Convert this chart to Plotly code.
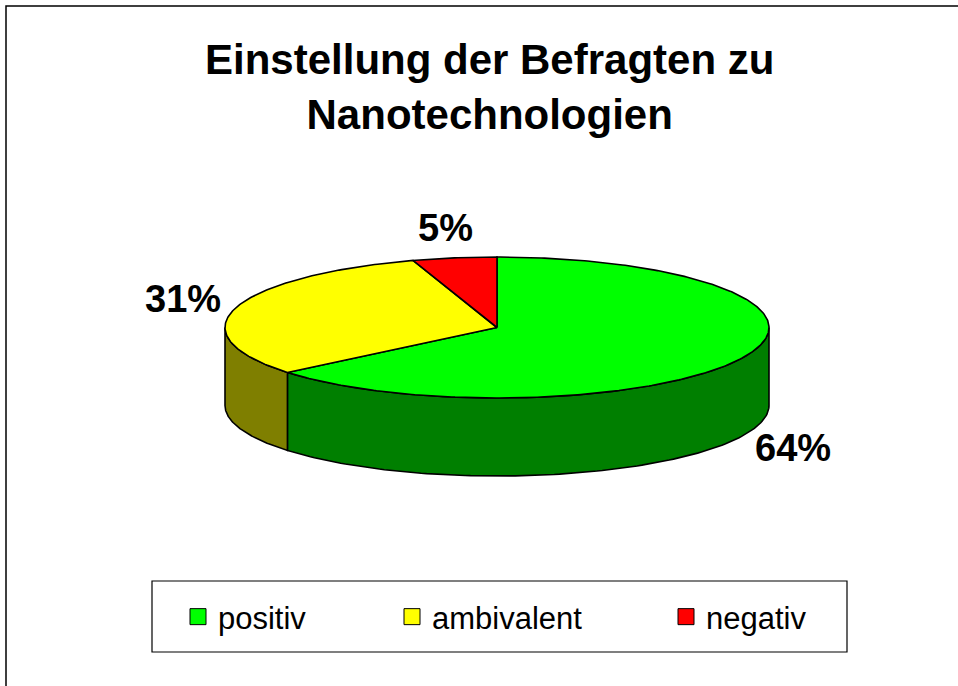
import numpy as np
import plotly.graph_objects as go

# ---------------- data ----------------
categories = ["positiv", "ambivalent", "negativ"]
shares = [64, 31, 5]
label_texts = ["64%", "31%", "5%"]
title_lines = ["Einstellung der Befragten zu", "Nanotechnologien"]

# ---------------- style / layout ----------------
top_colors = ["#00FF00", "#FFFF00", "#FF0000"]
side_colors = ["#007F00", "#7F7F00", "#7F0000"]
FONT = "Liberation Sans, Arial, sans-serif"

W, H = 958, 686
CX, CY = 497, 327.5        # centre of the pie's top ellipse (px)
RX, RY = 272, 70.5         # radii of the top ellipse (px)
DEPTH = 78                 # thickness of the pie (px)
GAP_X, GAP_Y = 55, 30      # label distance outside the ellipse
legend_sym_x = [198, 412, 686]
legend_y = 617


def ell(theta_deg, dy=0.0):
    t = np.radians(theta_deg)
    return CX + RX * np.sin(t), CY - RY * np.cos(t) + dy


fig = go.Figure()
total = float(sum(shares))
bounds = np.concatenate([[0.0], np.cumsum(shares) / total * 360.0])
outline = dict(color="black", width=1.6)

# front side walls (visible part: angles 90..270, measured clockwise from top)
for i in range(len(shares)):
    lo, hi = max(bounds[i], 90.0), min(bounds[i + 1], 270.0)
    if hi > lo:
        th = np.linspace(lo, hi, 120)
        xt, yt = ell(th)
        xb, yb = ell(th[::-1], DEPTH)
        xs = np.concatenate([xt, xb, xt[:1]])
        ys = np.concatenate([yt, yb, yt[:1]])
        fig.add_trace(go.Scatter(x=xs, y=ys, mode="lines", fill="toself",
                                 fillcolor=side_colors[i], line=outline,
                                 hoverinfo="skip", showlegend=False))

# top faces
for i in range(len(shares)):
    th = np.linspace(bounds[i], bounds[i + 1], max(int((bounds[i + 1] - bounds[i]) * 1.5), 8))
    xt, yt = ell(th)
    xs = np.concatenate([[CX], xt, [CX]])
    ys = np.concatenate([[CY], yt, [CY]])
    fig.add_trace(go.Scatter(x=xs, y=ys, mode="lines", fill="toself",
                             fillcolor=top_colors[i], line=outline,
                             hoverinfo="skip", showlegend=False))

# percentage labels
annotations = []
for i in range(len(shares)):
    mid = (bounds[i] + bounds[i + 1]) / 2.0
    t = np.radians(mid)
    lx = CX + (RX + GAP_X) * np.sin(t)
    ly = CY - (RY + GAP_Y) * np.cos(t) + (DEPTH if np.cos(t) < 0 else 0)
    annotations.append(dict(x=lx, y=ly, xref="x", yref="y", text=label_texts[i],
                            showarrow=False, xanchor="center", yanchor="middle",
                            font=dict(family=FONT, size=38, color="black", weight="bold")))

# title
annotations.append(dict(x=489, y=34, xref="x", yref="y", text="<br>".join(title_lines),
                        showarrow=False, xanchor="center", yanchor="top", align="center",
                        font=dict(family=FONT, size=42, color="black", weight="bold")))

# legend entries (one legend per entry so each can be positioned)
legend_names = ["legend", "legend2", "legend3"]
legend_layouts = {}
for i, cat in enumerate(categories):
    fig.add_trace(go.Scatter(x=[None], y=[None], mode="markers", name=cat,
                             marker=dict(symbol="square", size=16, color=top_colors[i],
                                         line=dict(color="black", width=1)),
                             legend=legend_names[i], hoverinfo="skip"))
    legend_layouts[legend_names[i]] = dict(
        x=(legend_sym_x[i] - 20) / W, y=1 - legend_y / H, xanchor="left", yanchor="middle",
        orientation="h", bgcolor="rgba(0,0,0,0)", borderwidth=0,
        font=dict(family=FONT, size=31, color="black"))

shapes = [
    # outer chart frame (top and left edges visible)
    dict(type="rect", xref="x", yref="y", x0=6, y0=6, x1=W + 20, y1=H + 20,
         line=dict(color="black", width=1.5), fillcolor="rgba(0,0,0,0)", layer="below"),
    # legend frame
    dict(type="rect", xref="x", yref="y", x0=152, y0=581, x1=847, y1=652,
         line=dict(color="black", width=1.2), fillcolor="rgba(0,0,0,0)", layer="below"),
]

fig.update_layout(
    width=W, height=H, autosize=False,
    margin=dict(l=0, r=0, t=0, b=0, pad=0),
    paper_bgcolor="white", plot_bgcolor="white",
    xaxis=dict(range=[0, W], visible=False, fixedrange=True),
    yaxis=dict(range=[H, 0], visible=False, fixedrange=True),
    annotations=annotations, shapes=shapes,
    hovermode=False,
    **legend_layouts,
)

fig.write_html("out.html", config={"displayModeBar": False},
               post_script="document.body.style.margin='0';")
